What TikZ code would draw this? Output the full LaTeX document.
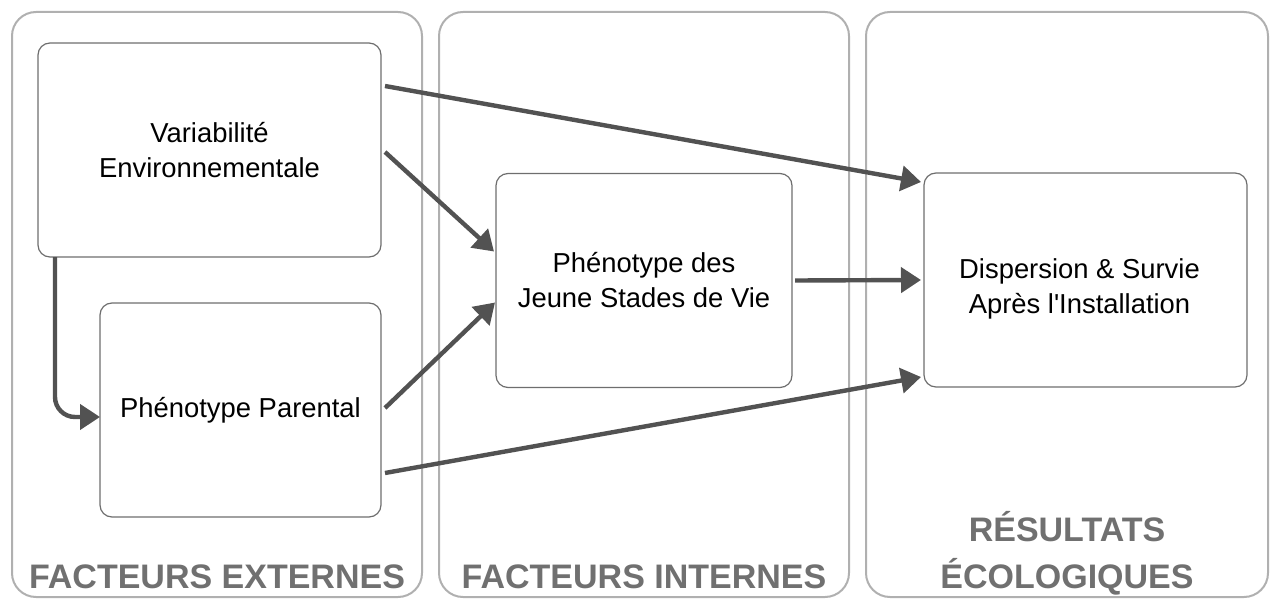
\documentclass[tikz,border=0pt]{standalone}
\usepackage{fontspec}
\setmainfont{Liberation Sans}[Ligatures=TeXOff]
\usetikzlibrary{arrows.meta,calc}
\definecolor{panelgray}{RGB}{176,176,176}
\definecolor{boxgray}{RGB}{110,110,110}
\definecolor{arrowgray}{RGB}{82,82,82}
\definecolor{titlegray}{RGB}{112,112,112}
\begin{document}
\begin{tikzpicture}[x=0.5pt, y=-0.5pt,
    panel/.style={draw=panelgray, line width=1pt, rounded corners=12pt,
        inner sep=0pt, outer sep=0pt, minimum height=292.5pt},
    boxtext/.style={align=center, font=\fontsize{13.7}{17.5}\selectfont},
    factor/.style={draw=boxgray, line width=0.6pt, rounded corners=6pt, fill=white,
        inner sep=0pt, outer sep=0pt, minimum height=107pt, boxtext},
    coltitle/.style={text=titlegray, align=center,
        font=\fontsize{17}{23.5}\selectfont\bfseries},
    link/.style={draw=arrowgray, line width=2.2pt,
        -{Triangle[length=10pt, width=12.5pt]}}]
    \useasboundingbox (0,0) rectangle (1280,599);

    % Three columns
    \node[panel, minimum width=205pt] (colext) at (217,304.5) {};
    \node[panel, minimum width=205pt] (colint) at (644,304.5) {};
    \node[panel, minimum width=201pt] (colres) at (1067,304.5) {};

    % Column titles
    \node[coltitle, anchor=base] (titext) at (217,588) {FACTEURS EXTERNES};
    \node[coltitle, anchor=base] (titint) at (644,588) {FACTEURS INTERNES};
    \node[coltitle, anchor=base] (titres) at (1067,588) {RÉSULTATS\\ÉCOLOGIQUES};

    % Boxes
    \node[factor, minimum width=171.5pt] (varenv) at (209.5,150)
        {Variabilité\\Environnementale};
    \node[factor, minimum width=140.5pt] (phenpar) at (240.5,410)
        {Phénotype Parental};
    \node[factor, minimum width=148pt] (phenjeune) at (644,280.5)
        {Phénotype des\\Jeune Stades de Vie};
    \node[factor, minimum width=161.5pt,
        label={[boxtext, xshift=-3pt, yshift=-4.5pt]center:Dispersion \& Survie\\Après l'Installation}]
        (disp) at (1085.5,280) {};

    % Connectors
    \draw[link] ($(varenv.north east)+(4,43)$) -- ($(disp.north west)+(-3,9)$);
    \draw[link] ($(varenv.north east)+(4,109)$) -- ($(phenjeune.north west)+(-2,78)$);
    \draw[link] ($(phenpar.east)+(4,-2)$) -- ($(phenjeune.north west)+(-1,129)$);
    \draw[link] ($(phenpar.north east)+(4,170)$) -- ($(disp.south west)+(-3,-10)$);
    \draw[link] ($(phenjeune.east)+(3,0)$) -- ($(disp.west)+(-3,0)$);
    \draw[link, rounded corners=10pt] ($(varenv.south west)+(17,0)$)
        |- ($(phenpar.west)+(0,7)$);
\end{tikzpicture}
\end{document}
